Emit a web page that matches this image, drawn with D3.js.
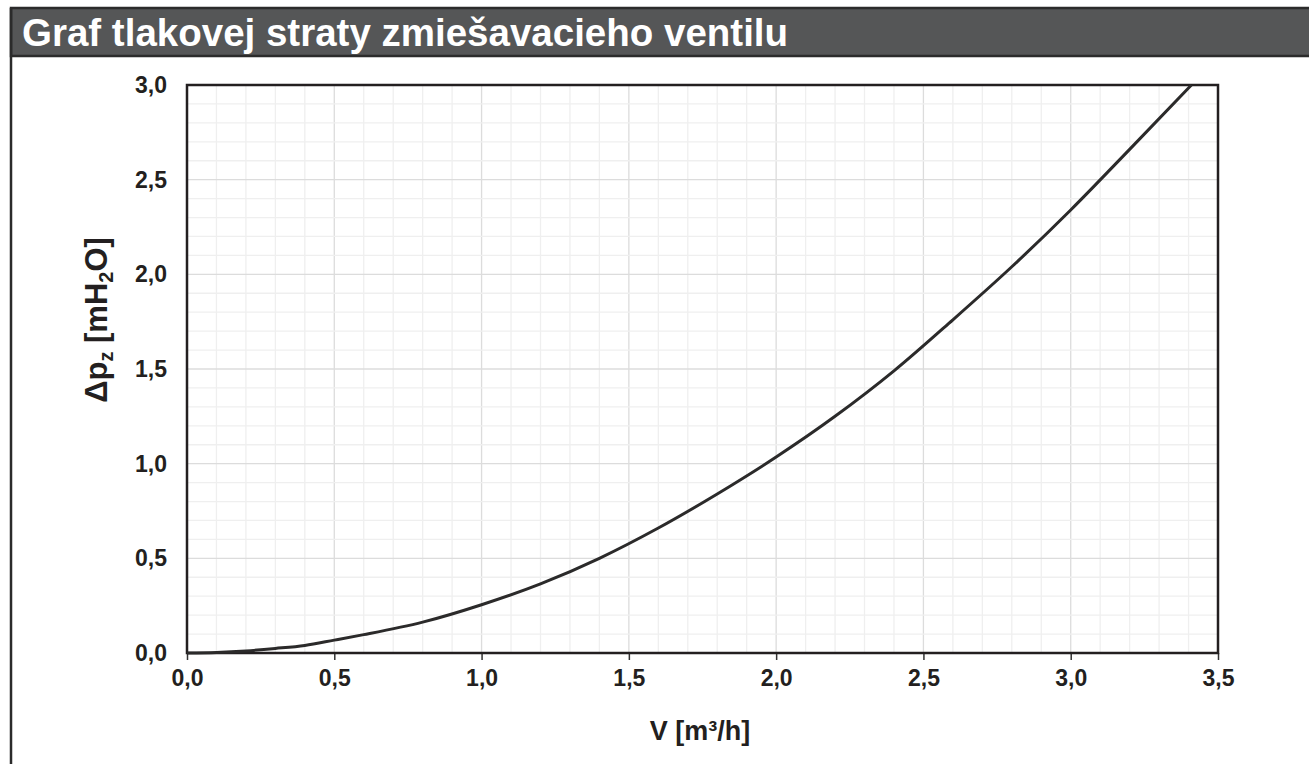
<!DOCTYPE html>
<html>
<head>
<meta charset="utf-8">
<script src="https://cdn.jsdelivr.net/npm/d3@7"></script>
<style>
  body { margin: 0; background: #fff; }
  text { font-family: Arial, "Liberation Sans", sans-serif; }
</style>
</head>
<body>
<div id="chart"></div>
<script>
// chart data
var flow = [0, 0.1, 0.2, 0.3, 0.4, 0.5, 0.6, 0.8, 1.0, 1.2, 1.4, 1.6, 1.8, 2.0, 2.2, 2.4, 2.6, 2.8, 3.0, 3.2, 3.41];
var loss = [0, 0.003, 0.011, 0.024, 0.040, 0.068, 0.097, 0.163, 0.255, 0.365, 0.50, 0.66, 0.84, 1.035, 1.25, 1.49, 1.76, 2.04, 2.34, 2.66, 3.0];
var xTicks = [0, 0.5, 1.0, 1.5, 2.0, 2.5, 3.0, 3.5];
var yTicks = [0, 0.5, 1.0, 1.5, 2.0, 2.5, 3.0];
var title = "Graf tlakovej straty zmiešavacieho ventilu";

var W = 1309, H = 764;
var plot = {left: 187, right: 1218, top: 85, bottom: 653};
var fmt = function(d) { return d3.format(".1f")(d).replace(".", ","); };

var svg = d3.select("#chart").append("svg")
    .attr("width", W)
    .attr("height", H);

// header bar + left frame line
svg.append("rect")
    .attr("x", 11).attr("y", 8)
    .attr("width", W).attr("height", 48)
    .attr("fill", "#555657")
    .attr("stroke", "#2b2b2b")
    .attr("stroke-width", 2.5);
svg.append("line")
    .attr("x1", 11).attr("x2", 11)
    .attr("y1", 8).attr("y2", H)
    .attr("stroke", "#2b2b2b")
    .attr("stroke-width", 2.5);
svg.append("text")
    .attr("x", 22).attr("y", 46)
    .attr("fill", "#fff")
    .style("font-size", "38.5px")
    .style("font-weight", "bold")
    .text(title);

var x = d3.scaleLinear().domain([0, 3.5]).range([plot.left, plot.right]);
var y = d3.scaleLinear().domain([0, 3.0]).range([plot.bottom, plot.top]);

var g = svg.append("g");

// minor grid every 0.1
var minorX = d3.range(1, 35).map(function(i) { return i / 10; });
var minorY = d3.range(1, 30).map(function(i) { return i / 10; });
function isMajor(v) { return Math.abs(v * 2 - Math.round(v * 2)) < 1e-6; }

g.selectAll(".gx")
  .data(minorX)
  .enter().append("line")
    .attr("x1", function(d) { return x(d); })
    .attr("x2", function(d) { return x(d); })
    .attr("y1", plot.top).attr("y2", plot.bottom)
    .attr("stroke", function(d) { return isMajor(d) ? "#dcdcdc" : "#efefef"; })
    .attr("stroke-width", 1.3);

g.selectAll(".gy")
  .data(minorY)
  .enter().append("line")
    .attr("y1", function(d) { return y(d); })
    .attr("y2", function(d) { return y(d); })
    .attr("x1", plot.left).attr("x2", plot.right)
    .attr("stroke", function(d) { return isMajor(d) ? "#dcdcdc" : "#efefef"; })
    .attr("stroke-width", 1.3);

// x axis ticks and labels
var xAxis = svg.append("g")
    .attr("transform", "translate(0," + plot.bottom + ")")
    .call(d3.axisBottom(x).tickValues(xTicks).tickSize(7).tickPadding(10).tickFormat(fmt));
xAxis.select(".domain").remove();
xAxis.selectAll("line").attr("stroke", "#333").attr("stroke-width", 1.5);
xAxis.selectAll("text")
    .attr("fill", "#231f20")
    .style("font-size", "23px")
    .style("font-weight", "bold")
    .style("font-family", "Arial, 'Liberation Sans', sans-serif");

// y axis labels (no tick marks)
var yAxis = svg.append("g")
    .attr("transform", "translate(" + plot.left + ",0)")
    .call(d3.axisLeft(y).tickValues(yTicks).tickSize(0).tickPadding(20).tickFormat(fmt));
yAxis.select(".domain").remove();
yAxis.selectAll("text")
    .attr("fill", "#231f20")
    .style("font-size", "23px")
    .style("font-weight", "bold")
    .style("font-family", "Arial, 'Liberation Sans', sans-serif");

// plot frame
svg.append("rect")
    .attr("x", plot.left).attr("y", plot.top)
    .attr("width", plot.right - plot.left)
    .attr("height", plot.bottom - plot.top)
    .attr("fill", "none")
    .attr("stroke", "#231f20")
    .attr("stroke-width", 2.5);

// curve
var pts = flow.map(function(v, i) { return [v, loss[i]]; });
var line = d3.line()
    .x(function(d) { return x(d[0]); })
    .y(function(d) { return y(d[1]); })
    .curve(d3.curveMonotoneX);
svg.append("path")
    .datum(pts)
    .attr("d", line)
    .attr("fill", "none")
    .attr("stroke", "#2b2a2a")
    .attr("stroke-width", 3);

// axis titles
svg.append("text")
    .attr("x", 700).attr("y", 740)
    .attr("text-anchor", "middle")
    .attr("fill", "#231f20")
    .style("font-size", "27px")
    .style("font-weight", "bold")
    .text("V [m³/h]");

var yt = svg.append("text")
    .attr("transform", "translate(107,320) rotate(-90)")
    .attr("text-anchor", "middle")
    .attr("fill", "#231f20")
    .style("font-size", "31px")
    .style("font-weight", "bold");
yt.append("tspan").text("Δp");
yt.append("tspan").attr("dy", 6).style("font-size", "20px").text("z");
yt.append("tspan").attr("dy", -6).text(" [mH");
yt.append("tspan").attr("dy", 6).style("font-size", "20px").text("2");
yt.append("tspan").attr("dy", -6).text("O]");
</script>
</body>
</html>
